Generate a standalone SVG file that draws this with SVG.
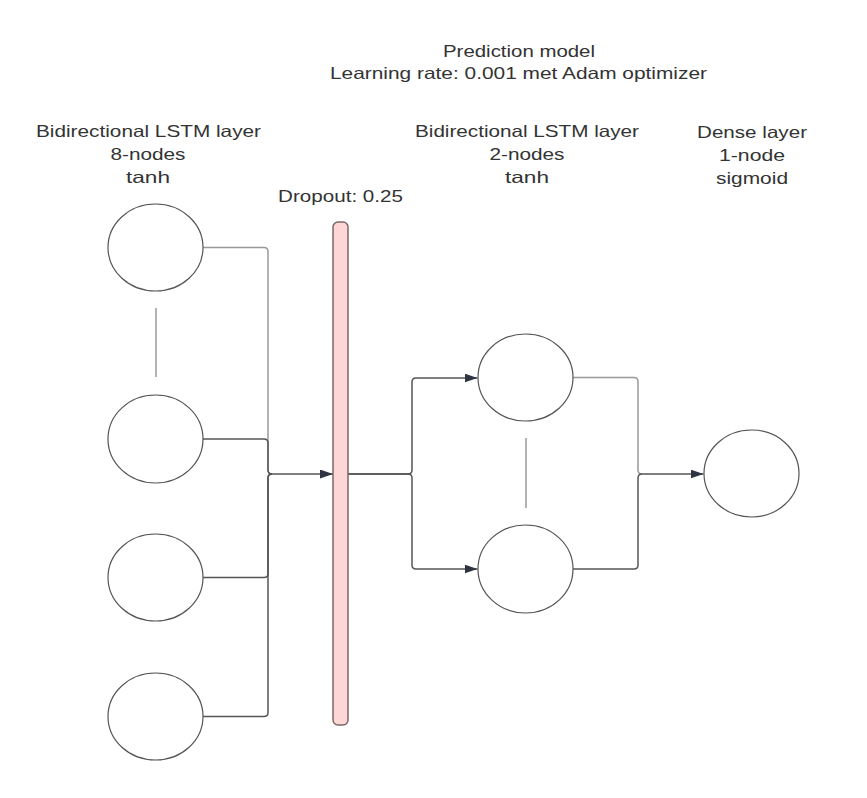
<svg xmlns="http://www.w3.org/2000/svg" width="867" height="798" viewBox="0 0 867 798">
<defs>
<style>
.t{font-family:"Liberation Sans",Arial,sans-serif;font-size:16.5px;fill:#333;text-anchor:middle}
.n{fill:#fff;stroke:#555;stroke-width:1.2}
.c{fill:none;stroke:#555;stroke-width:1.5}
.l{fill:none;stroke:#999;stroke-width:1.5}
</style>
<marker id="ah" markerWidth="14" markerHeight="10" refX="13" refY="4.5" orient="auto" markerUnits="userSpaceOnUse">
<path d="M0,0 L13,4.5 L0,9 z" fill="#2f3540"/>
</marker>
</defs>
<rect width="867" height="798" fill="#fff"/>
<g id="labels">
<text class="t" x="519" y="57" textLength="152" lengthAdjust="spacingAndGlyphs">Prediction model</text>
<text class="t" x="518.5" y="79" textLength="377" lengthAdjust="spacingAndGlyphs">Learning rate: 0.001 met Adam optimizer</text>
<text class="t" x="148.5" y="137" textLength="225" lengthAdjust="spacingAndGlyphs">Bidirectional LSTM layer</text>
<text class="t" x="148" y="160" textLength="75" lengthAdjust="spacingAndGlyphs">8-nodes</text>
<text class="t" x="148" y="183" textLength="44" lengthAdjust="spacingAndGlyphs">tanh</text>
<text class="t" x="527" y="137" textLength="224" lengthAdjust="spacingAndGlyphs">Bidirectional LSTM layer</text>
<text class="t" x="527" y="160" textLength="75" lengthAdjust="spacingAndGlyphs">2-nodes</text>
<text class="t" x="527" y="183" textLength="44" lengthAdjust="spacingAndGlyphs">tanh</text>
<text class="t" x="752" y="138" textLength="110" lengthAdjust="spacingAndGlyphs">Dense layer</text>
<text class="t" x="752" y="161" textLength="66" lengthAdjust="spacingAndGlyphs">1-node</text>
<text class="t" x="752" y="184" textLength="72" lengthAdjust="spacingAndGlyphs">sigmoid</text>
<text class="t" x="340.5" y="202" textLength="125" lengthAdjust="spacingAndGlyphs">Dropout: 0.25</text>
</g>
<g id="connectors">
<path class="l" d="M203,247.5 H264 Q268,247.5 268,251.5 V470 Q268,474 272,474"/>
<path class="c" d="M203,439 H264 Q268,439 268,443 V470 Q268,474 272,474"/>
<path class="c" d="M203,577.5 H264 Q268,577.5 268,573.5 V478 Q268,474 272,474"/>
<path class="c" d="M203,716.5 H264 Q268,716.5 268,712.5 V478 Q268,474 272,474"/>
<path class="c" d="M272,474 H333" marker-end="url(#ah)"/>
<path class="c" d="M348,474 H408 Q412,474 412,470 V382 Q412,378 416,378 H477.5" marker-end="url(#ah)"/>
<path class="c" d="M348,474 H408 Q412,474 412,478 V565 Q412,569 416,569 H477.5" marker-end="url(#ah)"/>
<path class="l" d="M573,377.5 H634 Q638,377.5 638,381.5 V470 Q638,474 642,474"/>
<path class="c" d="M573,569 H634 Q638,569 638,565 V478 Q638,474 642,474"/>
<path class="c" d="M642,474 H703.5" marker-end="url(#ah)"/>
<path class="l" d="M156,308 V377"/>
<path class="l" d="M526,438 V508"/>
</g>
<g id="dropout">
<rect x="333" y="222" width="15" height="503" rx="5" fill="#ffd6d6" stroke="#7a6868" stroke-width="1.5"/>
</g>
<g id="lstm1-node1"><ellipse class="n" cx="155.5" cy="247.5" rx="47.5" ry="43.5"/></g>
<g id="lstm1-node2"><ellipse class="n" cx="155.5" cy="439" rx="47.5" ry="44"/></g>
<g id="lstm1-node3"><ellipse class="n" cx="155.5" cy="577.5" rx="47.5" ry="43.5"/></g>
<g id="lstm1-node4"><ellipse class="n" cx="155.5" cy="716.5" rx="47.5" ry="43.5"/></g>
<g id="lstm2-node1"><ellipse class="n" cx="525.5" cy="377.5" rx="47.5" ry="43.5"/></g>
<g id="lstm2-node2"><ellipse class="n" cx="525.5" cy="569" rx="47.5" ry="44"/></g>
<g id="dense-node"><ellipse class="n" cx="751.5" cy="473.5" rx="47.5" ry="43.5"/></g>
</svg>
